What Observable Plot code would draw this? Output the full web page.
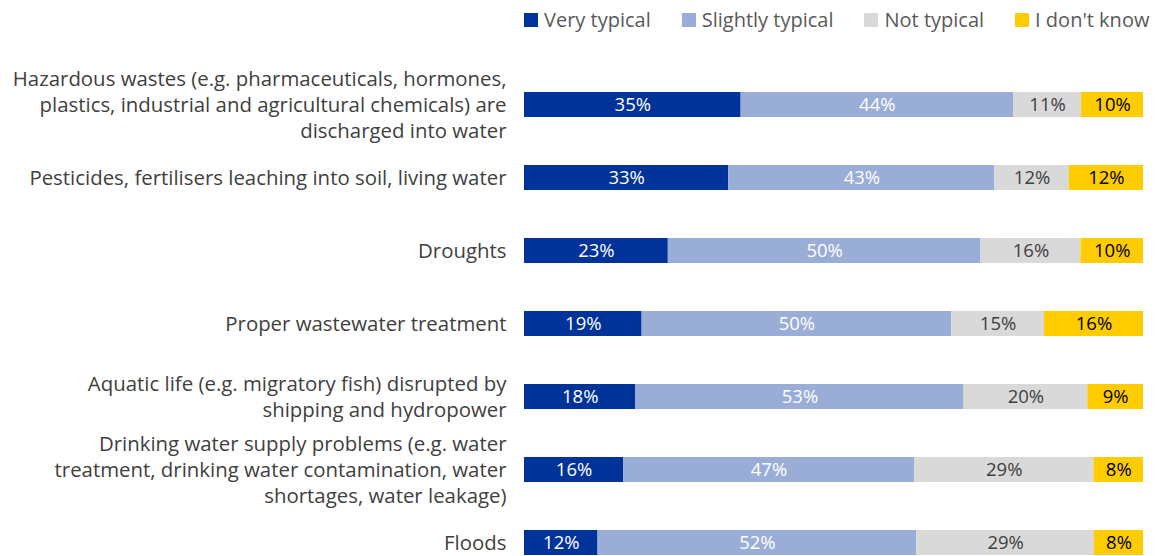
<!DOCTYPE html>
<html>
<head>
<meta charset="utf-8">
<script src="https://cdn.jsdelivr.net/npm/d3@7"></script>
<script src="https://cdn.jsdelivr.net/npm/@observablehq/plot@0.6"></script>
<style>
  html, body { margin: 0; padding: 0; background: #fff; overflow: hidden; }
  body { width: 1155px; height: 556px; position: relative; font-family: "Open Sans", sans-serif; }
  #legend { position: absolute; top: 6px; left: 524px; display: flex; align-items: center; font-size: 20px; color: #595959; white-space: nowrap; }
  #legend .item { display: flex; align-items: center; margin-right: 31px; }
  #legend .sw { width: 14px; height: 14px; margin-right: 6px; }
  #chart { position: absolute; top: 0; left: 0; }
</style>
</head>
<body>
<div id="legend"></div>
<div id="chart"></div>
<script>
// Issues, top to bottom, with display line breaks
const issues = [
  "Hazardous wastes (e.g. pharmaceuticals, hormones,\nplastics, industrial and agricultural chemicals) are\ndischarged into water",
  "Pesticides, fertilisers leaching into soil, living water",
  "Droughts",
  "Proper wastewater treatment",
  "Aquatic life (e.g. migratory fish) disrupted by\nshipping and hydropower",
  "Drinking water supply problems (e.g. water\ntreatment, drinking water contamination, water\nshortages, water leakage)",
  "Floods"
];

const responses = ["Very typical", "Slightly typical", "Not typical", "I don't know"];
const colors = ["#003399", "#9aadd7", "#d9d9d9", "#ffcc00"];
const labelColors = ["#ffffff", "#ffffff", "#404040", "#000000"];

// Share of answers (%) per issue
const veryTypical     = [35, 33, 23, 19, 18, 16, 12];
const slightlyTypical = [44, 43, 50, 50, 53, 47, 52];
const notTypical      = [11, 12, 16, 15, 20, 29, 29];
const dontKnow        = [10, 12, 10, 16,  9,  8,  8];

const seriesValues = [veryTypical, slightlyTypical, notTypical, dontKnow];
const data = responses.flatMap((r, k) =>
  issues.map((issue, i) => ({issue, response: r, value: seriesValues[k][i]}))
);

// Legend
const legend = document.getElementById("legend");
responses.forEach((r, k) => {
  const item = document.createElement("div");
  item.className = "item";
  const sw = document.createElement("span");
  sw.className = "sw";
  sw.style.background = colors[k];
  const t = document.createElement("span");
  t.textContent = r;
  item.append(sw, t);
  legend.append(item);
});

const stackOpts = {offset: "normalize", order: responses};

const chart = Plot.plot({
  width: 1155,
  height: 606,
  marginLeft: 524,
  marginRight: 12,
  marginTop: 40,
  marginBottom: 0,
  style: {fontFamily: "'Open Sans', sans-serif", background: "transparent"},
  x: {domain: [0, 1], axis: null},
  y: {domain: issues, padding: 0.66, label: null},
  color: {domain: responses, range: colors},
  marks: [
    Plot.axisY({
      tickSize: 0,
      tickPadding: 18,
      fontSize: 20.4,
      lineHeight: 1.28,
      dy: -1.5,
      fill: "#404040",
      label: null
    }),
    Plot.barX(data, Plot.stackX({
      ...stackOpts,
      x: "value",
      y: "issue",
      fill: "response"
    })),
    Plot.text(data, Plot.stackX({
      ...stackOpts,
      x: "value",
      y: "issue",
      z: "response",
      text: d => d.value + "%",
      fill: d => labelColors[responses.indexOf(d.response)],
      fontSize: 18.5
    }))
  ]
});

document.getElementById("chart").append(chart);
</script>
</body>
</html>
